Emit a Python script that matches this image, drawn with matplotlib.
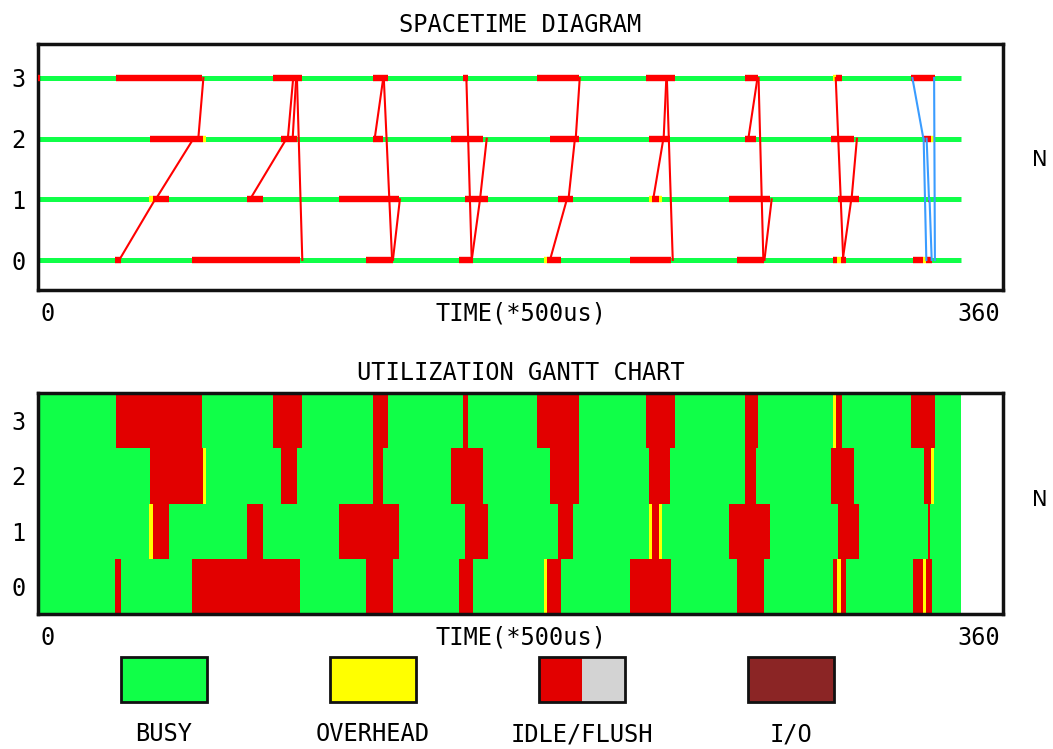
import matplotlib
matplotlib.use('Agg')
import matplotlib.pyplot as plt
from matplotlib.patches import Rectangle

# ---- data (time in units of 500us) ----
END = 344.5
procs = [0, 1, 2, 3]

idle_p0 = [(28.7, 30.9), (57.6, 97.8), (122.4, 132.6), (157.2, 162.2), (190.0, 195.0),
           (220.9, 236.2), (260.6, 270.8), (296.5, 298.2), (299.5, 301.3),
           (326.6, 330.3), (331.3, 333.4)]
idle_p1 = [(42.8, 48.8), (77.8, 83.8), (112.4, 134.8), (159.3, 168.0), (194.1, 199.7),
           (229.0, 231.8), (257.8, 272.9), (298.5, 306.4), (332.1, 332.9)]
idle_p2 = [(41.8, 61.4), (90.8, 96.8), (124.8, 128.6), (154.2, 166.1), (191.0, 202.0),
           (228.0, 235.8), (263.8, 267.9), (295.7, 304.6), (330.5, 333.1)]
idle_p3 = [(0.0, 0.7), (29.2, 61.0), (87.8, 98.6), (124.8, 130.6), (158.6, 160.4),
           (186.1, 202.0), (226.8, 237.8), (263.8, 268.7), (297.6, 299.8), (325.8, 334.6)]

over_p0 = [(188.9, 190.0), (298.2, 299.5), (330.3, 331.3)]
over_p1 = [(41.5, 42.8), (228.0, 229.0), (231.8, 232.9)]
over_p2 = [(61.4, 62.6), (333.1, 334.3)]
over_p3 = [(296.5, 297.6)]

idle = [idle_p0, idle_p1, idle_p2, idle_p3]
overhead = [over_p0, over_p1, over_p2, over_p3]

# messages: source, destination, send time, receive time, kind
msg_src = [0, 1, 2,   1, 2, 2, 3,   2, 3, 0,   3, 0, 1,   0, 1, 2,   1, 2, 3,
           2, 3, 0,   3, 0, 1,   3, 2, 2, 1, 3]
msg_dst = [1, 2, 3,   2, 3, 3, 0,   3, 0, 1,   0, 1, 2,   1, 2, 3,   2, 3, 0,
           3, 0, 1,   0, 1, 2,   2, 0, 1, 0, 0]
msg_send = [30.3, 43.9, 59.8,   79.1, 93.2, 95.0, 96.6,   125.6, 129.0, 132.4,
            159.8, 161.8, 164.9,   191.0, 197.9, 200.6,   229.5, 233.4, 234.6,
            265.0, 268.8, 271.0,   297.6, 300.2, 303.5,   326.2, 330.4, 331.5, 332.6, 334.3]
msg_recv = [43.7, 58.0, 61.7,   92.7, 95.2, 96.3, 98.6,   128.8, 132.1, 135.0,
            161.8, 164.9, 167.4,   197.3, 200.3, 202.1,   233.3, 234.4, 236.8,
            268.4, 270.6, 273.7,   300.4, 303.4, 305.5,   330.3, 331.4, 332.4, 333.4, 334.6]
msg_kind = ['a'] * 25 + ['b'] * 5

legend_labels = ['BUSY', 'OVERHEAD', 'IDLE/FLUSH', 'I/O']

GREEN = '#10ff48'
RED = '#ff0000'
GRED = '#e20000'
YELLOW = '#ffff00'
GRAY = '#d3d3d3'
BROWN = '#8b2525'
BLUE = '#3a9cff'
kind_color = {'a': RED, 'b': BLUE}

MONO = 'DejaVu Sans Mono'
FS = 17

fig = plt.figure(figsize=(10.53, 7.49), dpi=100)
W, H = 1053.0, 749.0
ax1 = fig.add_axes([38 / W, 1 - 290 / H, 965 / W, 246 / H])
ax2 = fig.add_axes([38 / W, 1 - 614 / H, 965 / W, 221 / H])

# ---- spacetime diagram ----
ax1.set_xlim(0, 360)
ax1.set_ylim(-0.494, 3.56)
for p in procs:
    ax1.hlines(p, 0, END, color=GREEN, lw=3.6, zorder=2)
    for a, b in idle[p]:
        ax1.hlines(p, a, b, color=RED, lw=4.6, zorder=3)
    for a, b in overhead[p]:
        ax1.hlines(p, a, b, color=YELLOW, lw=4.6, zorder=3)
for s, d, ts, tr, k in zip(msg_src, msg_dst, msg_send, msg_recv, msg_kind):
    ax1.plot([ts, tr], [s, d], color=kind_color[k], lw=1.5, zorder=4)

# ---- utilization gantt chart ----
ax2.set_xlim(0, 360)
ax2.set_ylim(-0.5, 3.5)
for p in procs:
    ax2.broken_barh([(0, END)], (p - 0.5, 1), facecolor=GREEN, edgecolor='none')
    ax2.broken_barh([(a, b - a) for a, b in idle[p]], (p - 0.5, 1),
                    facecolor=GRED, edgecolor='none')
    ax2.broken_barh([(a, b - a) for a, b in overhead[p]], (p - 0.5, 1),
                    facecolor=YELLOW, edgecolor='none')

titles = ['SPACETIME DIAGRAM', 'UTILIZATION GANTT CHART']
for ax, title in zip([ax1, ax2], titles):
    ax.set_xticks([])
    ax.set_yticks(procs)
    ax.set_yticklabels([str(p) for p in procs], family=MONO, fontsize=FS)
    ax.tick_params(axis='y', length=0, pad=9)
    for sp in ax.spines.values():
        sp.set_linewidth(2.5)
        sp.set_color('#111111')
    ax.set_title(title, family=MONO, fontsize=FS, pad=9)
    ax.annotate('0', (0, 0), xycoords='axes fraction', xytext=(2, -17),
                textcoords='offset points', ha='left', va='center', family=MONO, fontsize=FS)
    ax.annotate('360', (1, 0), xycoords='axes fraction', xytext=(-2, -17),
                textcoords='offset points', ha='right', va='center', family=MONO, fontsize=FS)
    ax.annotate('TIME(*500us)', (0.5, 0), xycoords='axes fraction', xytext=(0, -17),
                textcoords='offset points', ha='center', va='center', family=MONO, fontsize=FS)

fig.text(1040 / W, 1 - 160 / H, 'N', ha='center', va='center', fontsize=15)
fig.text(1040 / W, 1 - 500 / H, 'N', ha='center', va='center', fontsize=15)

# ---- legend ----
axl = fig.add_axes([0, 0, 1, 99 / H])
axl.set_xlim(0, W)
axl.set_ylim(99, 0)
axl.axis('off')
for i, lab in enumerate(legend_labels):
    x0 = 121 + 209 * i
    if lab == 'IDLE/FLUSH':
        axl.add_patch(Rectangle((x0, 7), 43, 45, facecolor=GRED, edgecolor='none'))
        axl.add_patch(Rectangle((x0 + 43, 7), 43, 45, facecolor=GRAY, edgecolor='none'))
        axl.add_patch(Rectangle((x0, 7), 86, 45, facecolor='none', edgecolor='#111111', lw=2))
    else:
        fc = {'BUSY': GREEN, 'OVERHEAD': YELLOW, 'I/O': BROWN}[lab]
        axl.add_patch(Rectangle((x0, 7), 86, 45, facecolor=fc, edgecolor='#111111', lw=2))
    axl.text(x0 + 43, 84, lab, ha='center', va='center', family=MONO, fontsize=FS)

fig.savefig('out.png', dpi=100)
